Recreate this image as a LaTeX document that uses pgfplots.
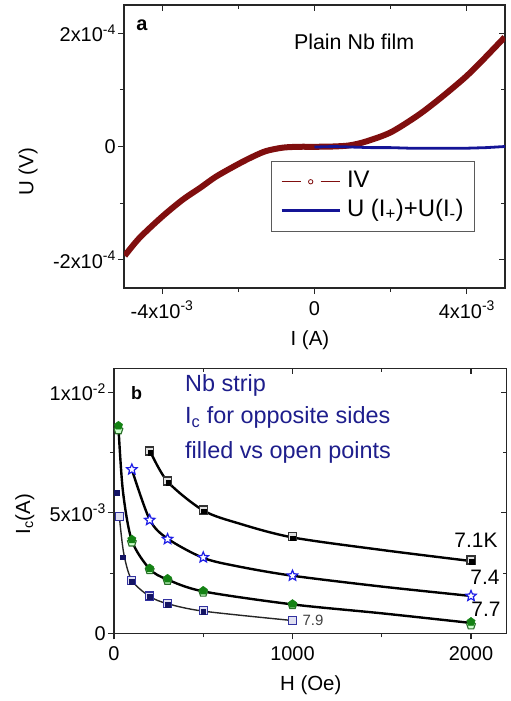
\documentclass[border=0pt]{standalone}
\usepackage{fontspec}
\setmainfont{Liberation Sans}
\usepackage{pgfplots}
\pgfplotsset{compat=1.18}
\usetikzlibrary{plotmarks}
\definecolor{IVred}{RGB}{128,14,14}
\definecolor{Uline}{RGB}{20,20,150}
\definecolor{navytext}{RGB}{30,30,140}
\definecolor{starblue}{RGB}{30,30,230}
\definecolor{greenfill}{RGB}{20,130,20}
\definecolor{greenopen}{RGB}{40,110,40}
\definecolor{navyopen}{RGB}{50,50,160}
\definecolor{navyfill}{RGB}{20,20,100}
\definecolor{boxgray}{RGB}{90,90,90}
\pgfdeclareplotmark{ostar}{%
  \pgfpathmoveto{\pgfpointpolar{90}{\pgfplotmarksize}}%
  \pgfpathlineto{\pgfpointpolar{126}{0.45\pgfplotmarksize}}%
  \pgfpathlineto{\pgfpointpolar{162}{\pgfplotmarksize}}%
  \pgfpathlineto{\pgfpointpolar{198}{0.45\pgfplotmarksize}}%
  \pgfpathlineto{\pgfpointpolar{234}{\pgfplotmarksize}}%
  \pgfpathlineto{\pgfpointpolar{270}{0.45\pgfplotmarksize}}%
  \pgfpathlineto{\pgfpointpolar{306}{\pgfplotmarksize}}%
  \pgfpathlineto{\pgfpointpolar{342}{0.45\pgfplotmarksize}}%
  \pgfpathlineto{\pgfpointpolar{18}{\pgfplotmarksize}}%
  \pgfpathlineto{\pgfpointpolar{54}{0.45\pgfplotmarksize}}%
  \pgfpathclose
  \pgfusepathqfillstroke
}
\newcommand{\tickfont}{\fontsize{20}{22}\selectfont}
\pgfplotsset{
  common/.style={
    scale only axis,
    scaled ticks=false,
    axis line style={line width=1.2bp, black!85},
    major tick style={line width=1.1bp, black!85},
    minor tick style={line width=1.1bp, black!85},
    major tick length=6bp,
    minor tick length=4bp,
    tick label style={font=\tickfont, inner sep=2bp},
    xticklabel style={yshift=-5bp},
    label style={font=\fontsize{20.5}{22}\selectfont},
  },
  mainax/.style={common, tick align=outside, tick pos=left},
  mirror/.style={common, tick align=inside, axis x line*=top, axis y line*=right,
    xticklabels={}, yticklabels={}},
  geomA/.style={at={(124bp,-288bp)}, anchor=south west, width=381bp, height=283bp,
    xmin=-0.005, xmax=0.005, ymin=-0.00025, ymax=0.00025,
    xtick={-0.004,0,0.004}, minor xtick={-0.002,0.002},
    ytick={-0.0002,0,0.0002}, minor ytick={-0.0001,0.0001}},
  geomB/.style={at={(114bp,-633.3bp)}, anchor=south west, width=392.7bp, height=265bp,
    xmin=0, xmax=2200, ymin=0, ymax=0.011,
    xtick={0,1000,2000}, minor xtick={500,1500},
    ytick={0,0.005,0.01}, minor ytick={0.0025,0.0075}},
}
\begin{document}
\begin{tikzpicture}
\path[use as bounding box] (0bp,-701bp) rectangle (511bp,0bp);
% ---------------- panel a ----------------
\begin{axis}[mirror, geomA]
\end{axis}
\begin{axis}[mainax, geomA,
  xticklabels={-4x10\textsuperscript{-3},0,4x10\textsuperscript{-3}},
  yticklabels={-2x10\textsuperscript{-4},0,2x10\textsuperscript{-4}},
  xlabel={I (A)}, ylabel={U (V)},
  xlabel style={at={(axis description cs:0.488,-0.184)}, anchor=center},
  ylabel style={at={(axis description cs:-0.252,0.41)}, anchor=center},
  legend style={at={(axis description cs:0.385,0.45)}, anchor=north west,
    draw=boxgray, line width=1.2bp, fill=white,
    font=\fontsize{24}{26}\selectfont,
    nodes={inner sep=2bp, text height=17bp, text depth=6bp},
    /tikz/every odd column/.append style={column sep=4bp},
    inner xsep=9bp, inner ysep=7bp, row sep=2bp},
  legend cell align=left,
]
\addplot[IVred, line width=6bp, smooth, tension=0.5,
  legend image code/.code={
    \draw[IVred,line width=1.3bp] (0bp,0bp)--(19bp,0bp) (39bp,0bp)--(58bp,0bp);
    \draw[IVred,line width=0.8bp,fill=white] (29bp,0bp) circle (2.2bp);}]
coordinates {
(-4.98e-3,-1.93e-4) (-4.6e-3,-1.62e-4) (-4.0e-3,-1.24e-4) (-3.46e-3,-0.94e-4)
(-3.0e-3,-0.73e-4) (-2.58e-3,-0.53e-4) (-2.0e-3,-0.31e-4) (-1.62e-3,-0.18e-4)
(-1.27e-3,-0.08e-4) (-0.83e-3,-0.02e-4) (-0.4e-3,-0.005e-4) (0,-0.005e-4)
(0.48e-3,0) (0.92e-3,0.02e-4) (1.36e-3,0.09e-4) (2.0e-3,0.25e-4)
(2.67e-3,0.53e-4) (3.11e-3,0.75e-4) (3.55e-3,0.99e-4) (4.0e-3,1.25e-4)
(4.42e-3,1.53e-4) (4.99e-3,1.93e-4)
};
\addlegendentry{IV}
\addplot[Uline, line width=2.8bp,
  legend image code/.code={
    \draw[Uline,line width=2.8bp] (0bp,0bp)--(58bp,0bp);}]
coordinates {
(0,-0.01e-4) (0.5e-3,0) (1e-3,-0.01e-4) (1.5e-3,-0.02e-4) (2e-3,-0.02e-4)
(2.5e-3,-0.03e-4) (3e-3,-0.03e-4) (3.5e-3,-0.03e-4) (4e-3,-0.03e-4)
(4.5e-3,-0.02e-4) (5e-3,0)
};
\addlegendentry{U (I\textsubscript{+})+U(I\textsubscript{-})}
\node[font=\fontsize{20}{22}\selectfont\bfseries] at (axis cs:-4.53e-3,2.15e-4) {a};
\node[anchor=base west, font=\fontsize{21.5}{24}\selectfont] at (axis cs:-0.63e-3,1.707e-4) {Plain Nb film};
\end{axis}
% ---------------- panel b ----------------
\begin{axis}[mirror, geomB]
\end{axis}
\begin{axis}[mainax, geomB,
  clip=false,
  xticklabels={0,1000,2000},
  yticklabels={0,5x10\textsuperscript{-3},1x10\textsuperscript{-2}},
  xlabel={H (Oe)}, ylabel={I\textsubscript{c}(A)},
  xlabel style={at={(axis description cs:0.501,-0.195)}, anchor=center},
  ylabel style={at={(axis description cs:-0.227,0.45)}, anchor=center},
]
% fit curves
\addplot[black, line width=2.4bp, smooth, tension=0.5] coordinates {
(200,7.6e-3) (300,6.3e-3) (500,5.1e-3) (700,4.56e-3) (1000,3.98e-3) (1500,3.46e-3) (2000,3.0e-3)};
\addplot[black, line width=2.4bp, smooth, tension=0.5] coordinates {
(100,6.8e-3) (200,4.72e-3) (300,3.93e-3) (500,3.13e-3) (700,2.77e-3) (1000,2.39e-3) (1500,1.94e-3) (2000,1.55e-3)};
\addplot[black, line width=2.4bp, smooth, tension=0.5] coordinates {
(25,8.55e-3) (50,5.9e-3) (100,3.85e-3) (200,2.67e-3) (300,2.23e-3) (500,1.74e-3) (1000,1.2e-3) (1500,0.83e-3) (2000,0.43e-3)};
\addplot[black!85, line width=1.4bp, smooth, tension=0.5] coordinates {
(30,4.84e-3) (55,3.3e-3) (100,2.2e-3) (200,1.53e-3) (300,1.23e-3) (500,0.92e-3) (1000,0.53e-3)};
% 7.1 K open squares
\addplot[only marks, mark=square*, mark size=4bp,
  mark options={draw=black!80, fill=white!88!black, line width=1.2bp}] coordinates {
(200,7.57e-3) (300,6.32e-3) (500,5.12e-3) (1000,4.01e-3) (2000,3.04e-3)};
\addplot[only marks, mark=square*, mark size=2.2bp,
  mark options={draw=black, fill=black}] coordinates {
(203,7.5e-3) (303,6.25e-3) (503,5.08e-3) (1000,3.96e-3) (2003,2.98e-3)};
% 7.4 stars
\addplot[only marks, mark=ostar, mark size=5.5bp,
  mark options={draw=starblue, fill=white, line width=1.2bp}] coordinates {
(100,6.8e-3) (200,4.7e-3) (300,3.91e-3) (500,3.15e-3) (1000,2.39e-3) (2000,1.55e-3)};
% 7.7 pentagons
\addplot[only marks, mark=pentagon*, mark size=4.6bp,
  mark options={draw=greenopen, fill=green!20!white, line width=1.1bp}] coordinates {
(25,8.44e-3) (100,3.78e-3) (200,2.63e-3) (300,2.19e-3) (500,1.70e-3) (1000,1.18e-3) (2000,0.34e-3)};
\addplot[only marks, mark=pentagon*, mark size=4.4bp,
  mark options={draw=greenfill, fill=greenfill}] coordinates {
(25,8.62e-3) (100,3.9e-3) (200,2.70e-3) (300,2.27e-3) (500,1.77e-3) (1000,1.22e-3) (2000,0.48e-3)};
% 7.9 squares
\addplot[only marks, mark=square*, mark size=4bp,
  mark options={draw=navyopen, fill=navyopen!15!white, line width=1.1bp}] coordinates {
(30,4.84e-3) (100,2.21e-3) (200,1.55e-3) (300,1.245e-3) (500,0.94e-3) (1000,0.53e-3)};
\addplot[only marks, mark=square*, mark size=2.4bp,
  mark options={draw=navyfill, fill=navyfill}] coordinates {
(15,5.85e-3) (50,3.16e-3) (100,2.13e-3) (200,1.52e-3) (300,1.2e-3) (500,0.9e-3)};
% labels
\node[font=\fontsize{21}{23}\selectfont] at (axis cs:2028,3.87e-3) {7.1K};
\node[font=\fontsize{21}{23}\selectfont] at (axis cs:2078,2.34e-3) {7.4};
\node[font=\fontsize{21}{23}\selectfont] at (axis cs:2084,1.01e-3) {7.7};
\node[font=\fontsize{15}{17}\selectfont, text=black!75] at (axis cs:1115,0.55e-3) {7.9};
\node[font=\fontsize{18}{20}\selectfont\bfseries] at (axis cs:127,9.99e-3) {b};
\node[anchor=base west, text=navytext, font=\fontsize{23.5}{26}\selectfont] at (axis cs:379,1.0025e-2) {Nb strip};
\node[anchor=base west, text=navytext, font=\fontsize{23.5}{26}\selectfont] at (axis cs:379,8.71e-3) {I\textsubscript{c} for opposite sides};
\node[anchor=base west, text=navytext, font=\fontsize{23.5}{26}\selectfont] at (axis cs:379,7.26e-3) {filled vs open points};
\end{axis}
\end{tikzpicture}
\end{document}
